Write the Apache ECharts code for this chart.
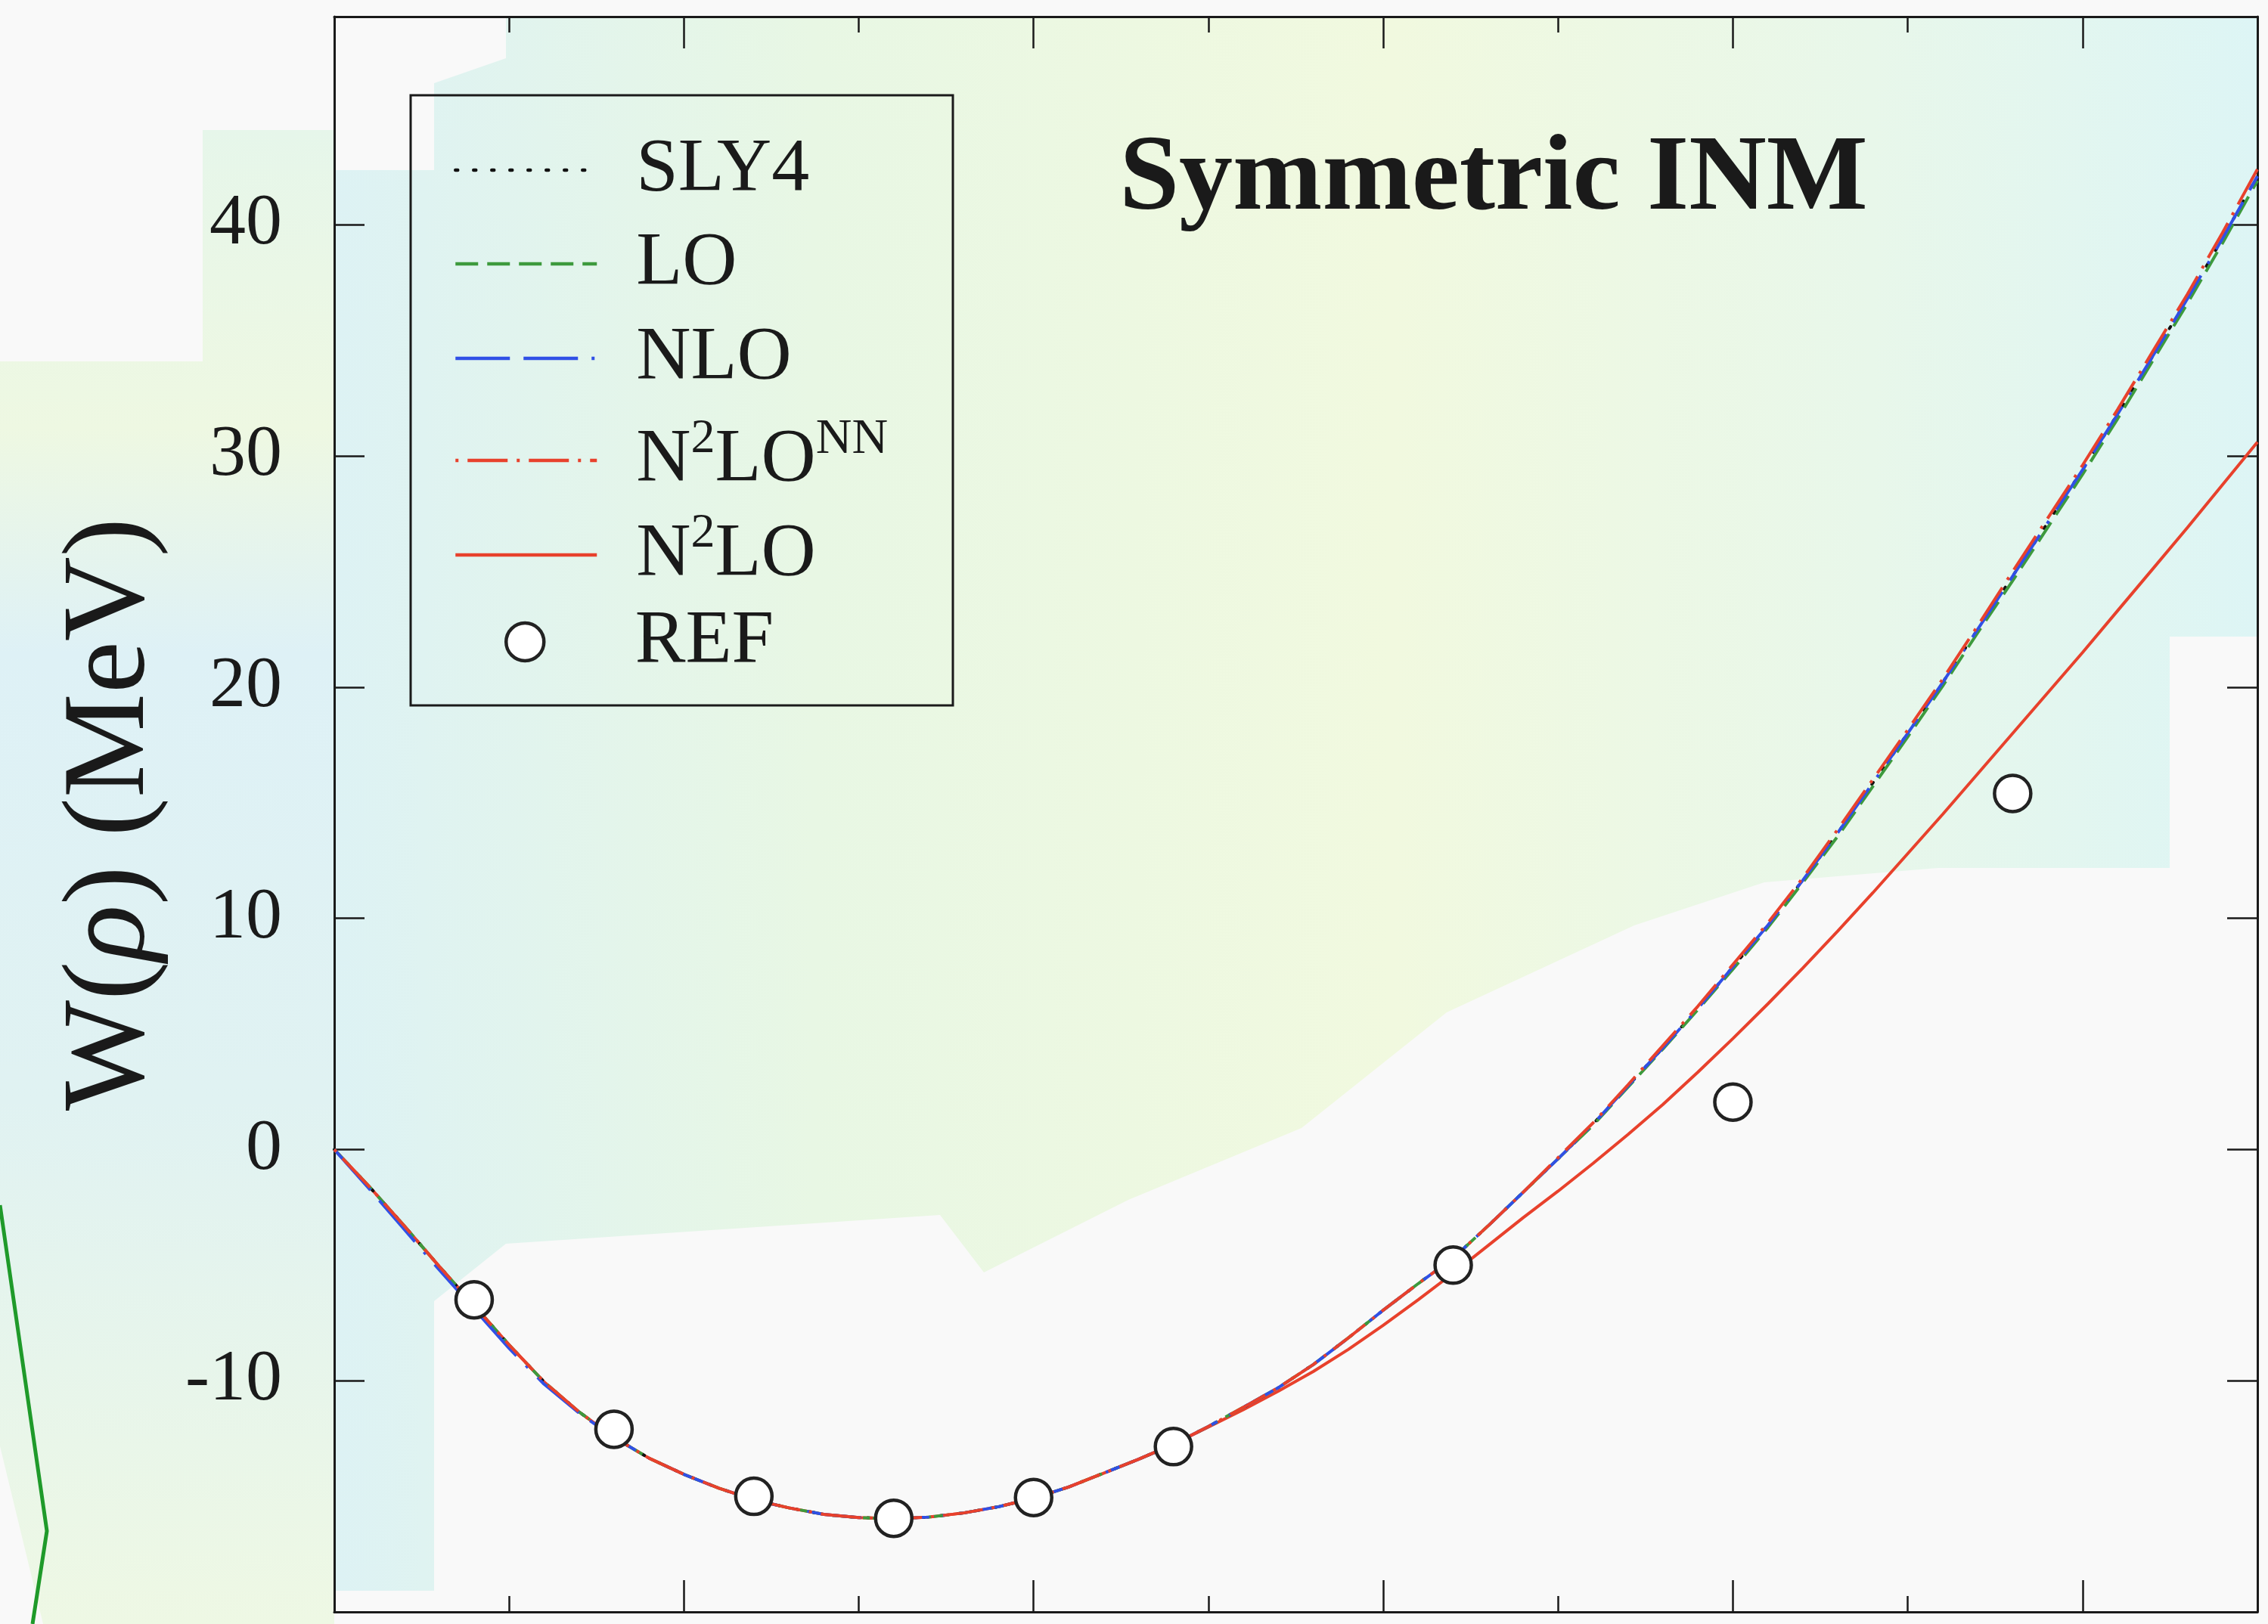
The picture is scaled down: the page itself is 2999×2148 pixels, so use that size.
<!DOCTYPE html>
<html>
<head>
<meta charset="utf-8">
<script src="https://cdn.jsdelivr.net/npm/echarts@6/dist/echarts.min.js"></script>
<style>
html,body{margin:0;padding:0;background:#f9f9f9;}
#chart{width:2999px;height:2148px;}
</style>
</head>
<body>
<div id="chart"></div>
<script>
// ---- data ----
const rho = [0, 0.005, 0.01, 0.015, 0.02, 0.025, 0.03, 0.035, 0.04, 0.045, 0.05, 0.055, 0.06, 0.065, 0.07, 0.075, 0.08, 0.085, 0.09, 0.095, 0.1, 0.105, 0.11, 0.115, 0.12, 0.125, 0.13, 0.135, 0.14, 0.145, 0.15, 0.155, 0.16, 0.165, 0.17, 0.175, 0.18, 0.185, 0.19, 0.195, 0.2, 0.205, 0.21, 0.215, 0.22, 0.225, 0.23, 0.235, 0.24, 0.245, 0.25, 0.255, 0.26, 0.265, 0.27, 0.275];
const sly4 = [0, -1.6, -3.3, -5.05, -6.75, -8.45, -10.05, -11.35, -12.45, -13.35, -14.05, -14.65, -15.15, -15.5, -15.78, -15.92, -15.97, -15.9, -15.72, -15.45, -15.08, -14.6, -14.0, -13.4, -12.75, -11.98, -11.15, -10.3, -9.3, -8.15, -6.95, -5.8, -4.7, -3.3, -1.85, -0.4, 1.1, 2.75, 4.4, 6.1, 7.9, 9.7, 11.65, 13.7, 15.85, 18.0, 20.2, 22.5, 24.8, 27.1, 29.4, 31.8, 34.3, 36.8, 39.4, 42.1];
const lo = [0, -1.6, -3.3, -5.05, -6.75, -8.45, -10.05, -11.35, -12.45, -13.35, -14.05, -14.65, -15.15, -15.5, -15.78, -15.92, -15.97, -15.9, -15.72, -15.45, -15.08, -14.6, -14.0, -13.4, -12.75, -11.98, -11.15, -10.3, -9.3, -8.15, -6.95, -5.8, -4.7, -3.3, -1.85, -0.4, 1.05, 2.7, 4.35, 6.05, 7.8, 9.6, 11.55, 13.55, 15.7, 17.85, 20.05, 22.35, 24.6, 26.9, 29.2, 31.6, 34.1, 36.6, 39.2, 41.9];
const nlo = [0, -1.7, -3.45, -5.2, -6.9, -8.6, -10.15, -11.4, -12.45, -13.35, -14.05, -14.65, -15.15, -15.5, -15.78, -15.92, -15.97, -15.9, -15.72, -15.45, -15.08, -14.6, -14.0, -13.4, -12.75, -11.98, -11.15, -10.3, -9.3, -8.15, -6.95, -5.8, -4.7, -3.3, -1.85, -0.4, 1.1, 2.75, 4.4, 6.1, 7.9, 9.7, 11.65, 13.7, 15.85, 18.0, 20.2, 22.5, 24.8, 27.1, 29.4, 31.8, 34.3, 36.8, 39.4, 42.1];
const n2loNN = [0, -1.6, -3.3, -5.05, -6.75, -8.45, -10.05, -11.35, -12.45, -13.35, -14.05, -14.65, -15.15, -15.5, -15.78, -15.92, -15.97, -15.9, -15.72, -15.45, -15.08, -14.6, -14.0, -13.4, -12.75, -11.98, -11.15, -10.3, -9.3, -8.15, -6.95, -5.8, -4.7, -3.3, -1.85, -0.35, 1.15, 2.8, 4.5, 6.2, 8.0, 9.8, 11.75, 13.85, 16.0, 18.15, 20.35, 22.65, 25.0, 27.3, 29.6, 32.0, 34.5, 37.0, 39.65, 42.4];
const n2lo = [0, -1.6, -3.3, -5.05, -6.75, -8.45, -10.05, -11.35, -12.45, -13.35, -14.05, -14.65, -15.15, -15.5, -15.78, -15.92, -15.97, -15.9, -15.72, -15.45, -15.08, -14.6, -14.0, -13.4, -12.75, -12.0, -11.25, -10.45, -9.6, -8.65, -7.6, -6.5, -5.35, -4.15, -2.95, -1.8, -0.6, 0.65, 1.95, 3.35, 4.8, 6.3, 7.85, 9.45, 11.1, 12.8, 14.5, 16.25, 18.0, 19.75, 21.5, 23.3, 25.1, 26.9, 28.75, 30.6];
const refRho = [0.02, 0.04, 0.06, 0.08, 0.10, 0.12, 0.16, 0.20, 0.24];
const refW = [-6.5, -12.1, -15.0, -15.95, -15.05, -12.85, -5.0, 2.05, 15.4];
const seriesNames = ['SLY4', 'LO', 'NLO', 'N2LO^NN', 'N2LO', 'REF'];
const yTickValues = [-10, 0, 10, 20, 30, 40];

// ---- chart ----
const FONT = '"Liberation Serif", "DejaVu Serif", serif';
const INK = '#1a1a1a';
const chart = echarts.init(document.getElementById('chart'), null, {renderer: 'canvas'});

function pairs(xs, ys) { return xs.map((x, i) => [x, ys[i]]); }

const axisLineStyle = {color: INK, width: 3};
function xAxisDef(position, interval, tickLen, showLine) {
  return {
    type: 'value', position: position, min: 0, max: 0.275, interval: interval,
    axisLine: {show: showLine, onZero: false, lineStyle: axisLineStyle},
    axisTick: {show: true, inside: true, length: tickLen, lineStyle: {color: INK, width: 2.5}},
    axisLabel: {show: false}, splitLine: {show: false}
  };
}

const legendRowsY = [218, 342, 467, 592, 717, 842];
const legendRich = {
  g: {width: 47, lineHeight: 120, fontSize: 20},
  gr: {width: 47, lineHeight: 120, fontSize: 20},
  n: {fontSize: 100, fontFamily: FONT, color: INK, lineHeight: 120},
  s2: {fontSize: 64, fontFamily: FONT, color: INK, lineHeight: 44, verticalAlign: 'top'},
  s3: {fontSize: 66, fontFamily: FONT, color: INK, lineHeight: 16, verticalAlign: 'top'}
};
const legendLabels = {
  'SLY4': '{g| }{n|SLY4}',
  'LO': '{g| }{n|LO}',
  'NLO': '{g| }{n|NLO}',
  'N2LO^NN': '{g| }{n|N}{s2|2}{n|LO}{s3|NN}',
  'N2LO': '{g| }{n|N}{s2|2}{n|LO}',
  'REF': '{gr| }{n|REF}'
};
const legends = seriesNames.map((nm, i) => {
  const isRef = nm === 'REF';
  return {
    show: true, data: [nm], left: isRef ? 667 : 600, top: legendRowsY[i] - 60 + 17, padding: 0,
    orient: 'vertical', itemWidth: 187, itemHeight: 50, selectedMode: false,
    itemStyle: isRef ? {color: '#ffffff', borderColor: '#222222', borderWidth: 4.5} : {opacity: 0},
    lineStyle: isRef ? {} : {width: 4.5},
    formatter: () => legendLabels[nm],
    textStyle: {rich: legendRich}
  };
});

const option = {
  backgroundColor: '#f9f9f9',
  animation: false,
  grid: {left: 442, top: 22, right: 14, bottom: 16, containLabel: false},
  xAxis: [
    xAxisDef('bottom', 0.05, 42, true),
    xAxisDef('bottom', 0.025, 21, false),
    xAxisDef('top', 0.05, 42, true),
    xAxisDef('top', 0.025, 21, false)
  ],
  yAxis: [
    {
      type: 'value', position: 'left', min: -20, max: 49, interval: 10,
      axisLine: {show: true, onZero: false, lineStyle: axisLineStyle},
      axisTick: {show: true, inside: true, length: 40, lineStyle: {color: INK, width: 2.5}},
      axisLabel: {
        show: true, margin: 69, fontSize: 96, fontFamily: FONT, color: INK,
        formatter: v => (yTickValues.indexOf(Math.round(v * 1000) / 1000) >= 0 ? String(v) : '')
      },
      splitLine: {show: false},
      name: '{n|W(}{r|ρ}{n|) (MeV)}',
      nameLocation: 'middle', nameRotate: 90, nameGap: 216,
      nameTextStyle: {
        rich: {
          n: {fontSize: 155, fontFamily: FONT, color: INK},
          r: {fontSize: 155, fontFamily: FONT, fontStyle: 'italic', color: INK}
        }
      }
    },
    {
      type: 'value', position: 'right', min: -20, max: 49, interval: 10,
      axisLine: {show: true, onZero: false, lineStyle: axisLineStyle},
      axisTick: {show: true, inside: true, length: 40, lineStyle: {color: INK, width: 2.5}},
      axisLabel: {show: false}, splitLine: {show: false}
    }
  ],
  legend: legends,
  graphic: [
    // soft slide-like background patches
    {
      type: 'polygon', z: -5, silent: true,
      shape: {points: [[669, 23], [2984, 23], [2984, 842], [2869, 842], [2869, 1148], [2563, 1148], [2333, 1167], [2161, 1224], [1913, 1339], [1721, 1492], [1492, 1587], [1301, 1683], [1243, 1607], [669, 1645], [574, 1721], [574, 2104], [442, 2104], [442, 225], [574, 225], [574, 110], [669, 77]]},
      style: {
        fill: new echarts.graphic.LinearGradient(0, 0, 1, 0, [
          {offset: 0, color: '#ddf2f4'},
          {offset: 0.25, color: '#e8f7e4'},
          {offset: 0.55, color: '#f1f9df'},
          {offset: 0.8, color: '#e8f7ea'},
          {offset: 1, color: '#ddf5f5'}
        ])
      }
    },
    {
      type: 'polygon', z: -5, silent: true,
      shape: {points: [[268, 172], [442, 172], [442, 2148], [57, 2148], [0, 1913], [0, 478], [268, 478]]},
      style: {
        fill: new echarts.graphic.LinearGradient(0, 0, 0, 1, [
          {offset: 0, color: '#e6f6ea'},
          {offset: 0.2, color: '#eef8e2'},
          {offset: 0.35, color: '#def1f6'},
          {offset: 0.65, color: '#e0f2f2'},
          {offset: 1, color: '#eef8e4'}
        ])
      }
    },
    {
      type: 'polyline', z: -4, silent: true,
      shape: {points: [[0, 1594], [62, 2025], [43, 2148]]},
      style: {stroke: '#1f9a2a', lineWidth: 5, fill: null}
    },
    // legend frame
    {
      type: 'rect', z: 10, silent: true,
      shape: {x: 543, y: 126, width: 717, height: 807},
      style: {fill: null, stroke: INK, lineWidth: 3}
    },
    // panel label
    {
      type: 'text', z: 10, silent: true,
      style: {
        text: 'Symmetric INM', x: 1975, y: 239, align: 'center', verticalAlign: 'middle',
        font: 'bold 142px ' + FONT, fill: INK
      }
    }
  ],
  series: [
    {
      name: 'N2LO', type: 'line', xAxisIndex: 0, yAxisIndex: 0, data: pairs(rho, n2lo),
      symbol: 'none', smooth: false, z: 3,
      itemStyle: {color: '#e8412c'},
      lineStyle: {color: '#e8412c', width: 4, type: 'solid'}
    },
    {
      name: 'SLY4', type: 'line', xAxisIndex: 0, yAxisIndex: 0, data: pairs(rho, sly4),
      symbol: 'none', z: 4,
      itemStyle: {color: '#111111'},
      lineStyle: {color: '#111111', width: 4, type: [3, 21], cap: 'round'}
    },
    {
      name: 'LO', type: 'line', xAxisIndex: 0, yAxisIndex: 0, data: pairs(rho, lo),
      symbol: 'none', z: 5,
      itemStyle: {color: '#3d9a3d'},
      lineStyle: {color: '#3d9a3d', width: 4, type: [30, 12]}
    },
    {
      name: 'NLO', type: 'line', xAxisIndex: 0, yAxisIndex: 0, data: pairs(rho, nlo),
      symbol: 'none', z: 6,
      itemStyle: {color: '#3050e6'},
      lineStyle: {color: '#3050e6', width: 4, type: [72, 18, 72, 18, 4, 18]}
    },
    {
      name: 'N2LO^NN', type: 'line', xAxisIndex: 0, yAxisIndex: 0, data: pairs(rho, n2loNN),
      symbol: 'none', z: 7,
      itemStyle: {color: '#e8412c'},
      lineStyle: {color: '#e8412c', width: 4, type: [53, 12, 4, 12], dashOffset: 65}
    },
    {
      name: 'REF', type: 'scatter', xAxisIndex: 0, yAxisIndex: 0, data: pairs(refRho, refW),
      symbol: 'circle', symbolSize: 48, z: 10,
      itemStyle: {color: '#ffffff', borderColor: '#222222', borderWidth: 4.5, opacity: 1}
    }
  ]
};
chart.setOption(option);
</script>
</body>
</html>
